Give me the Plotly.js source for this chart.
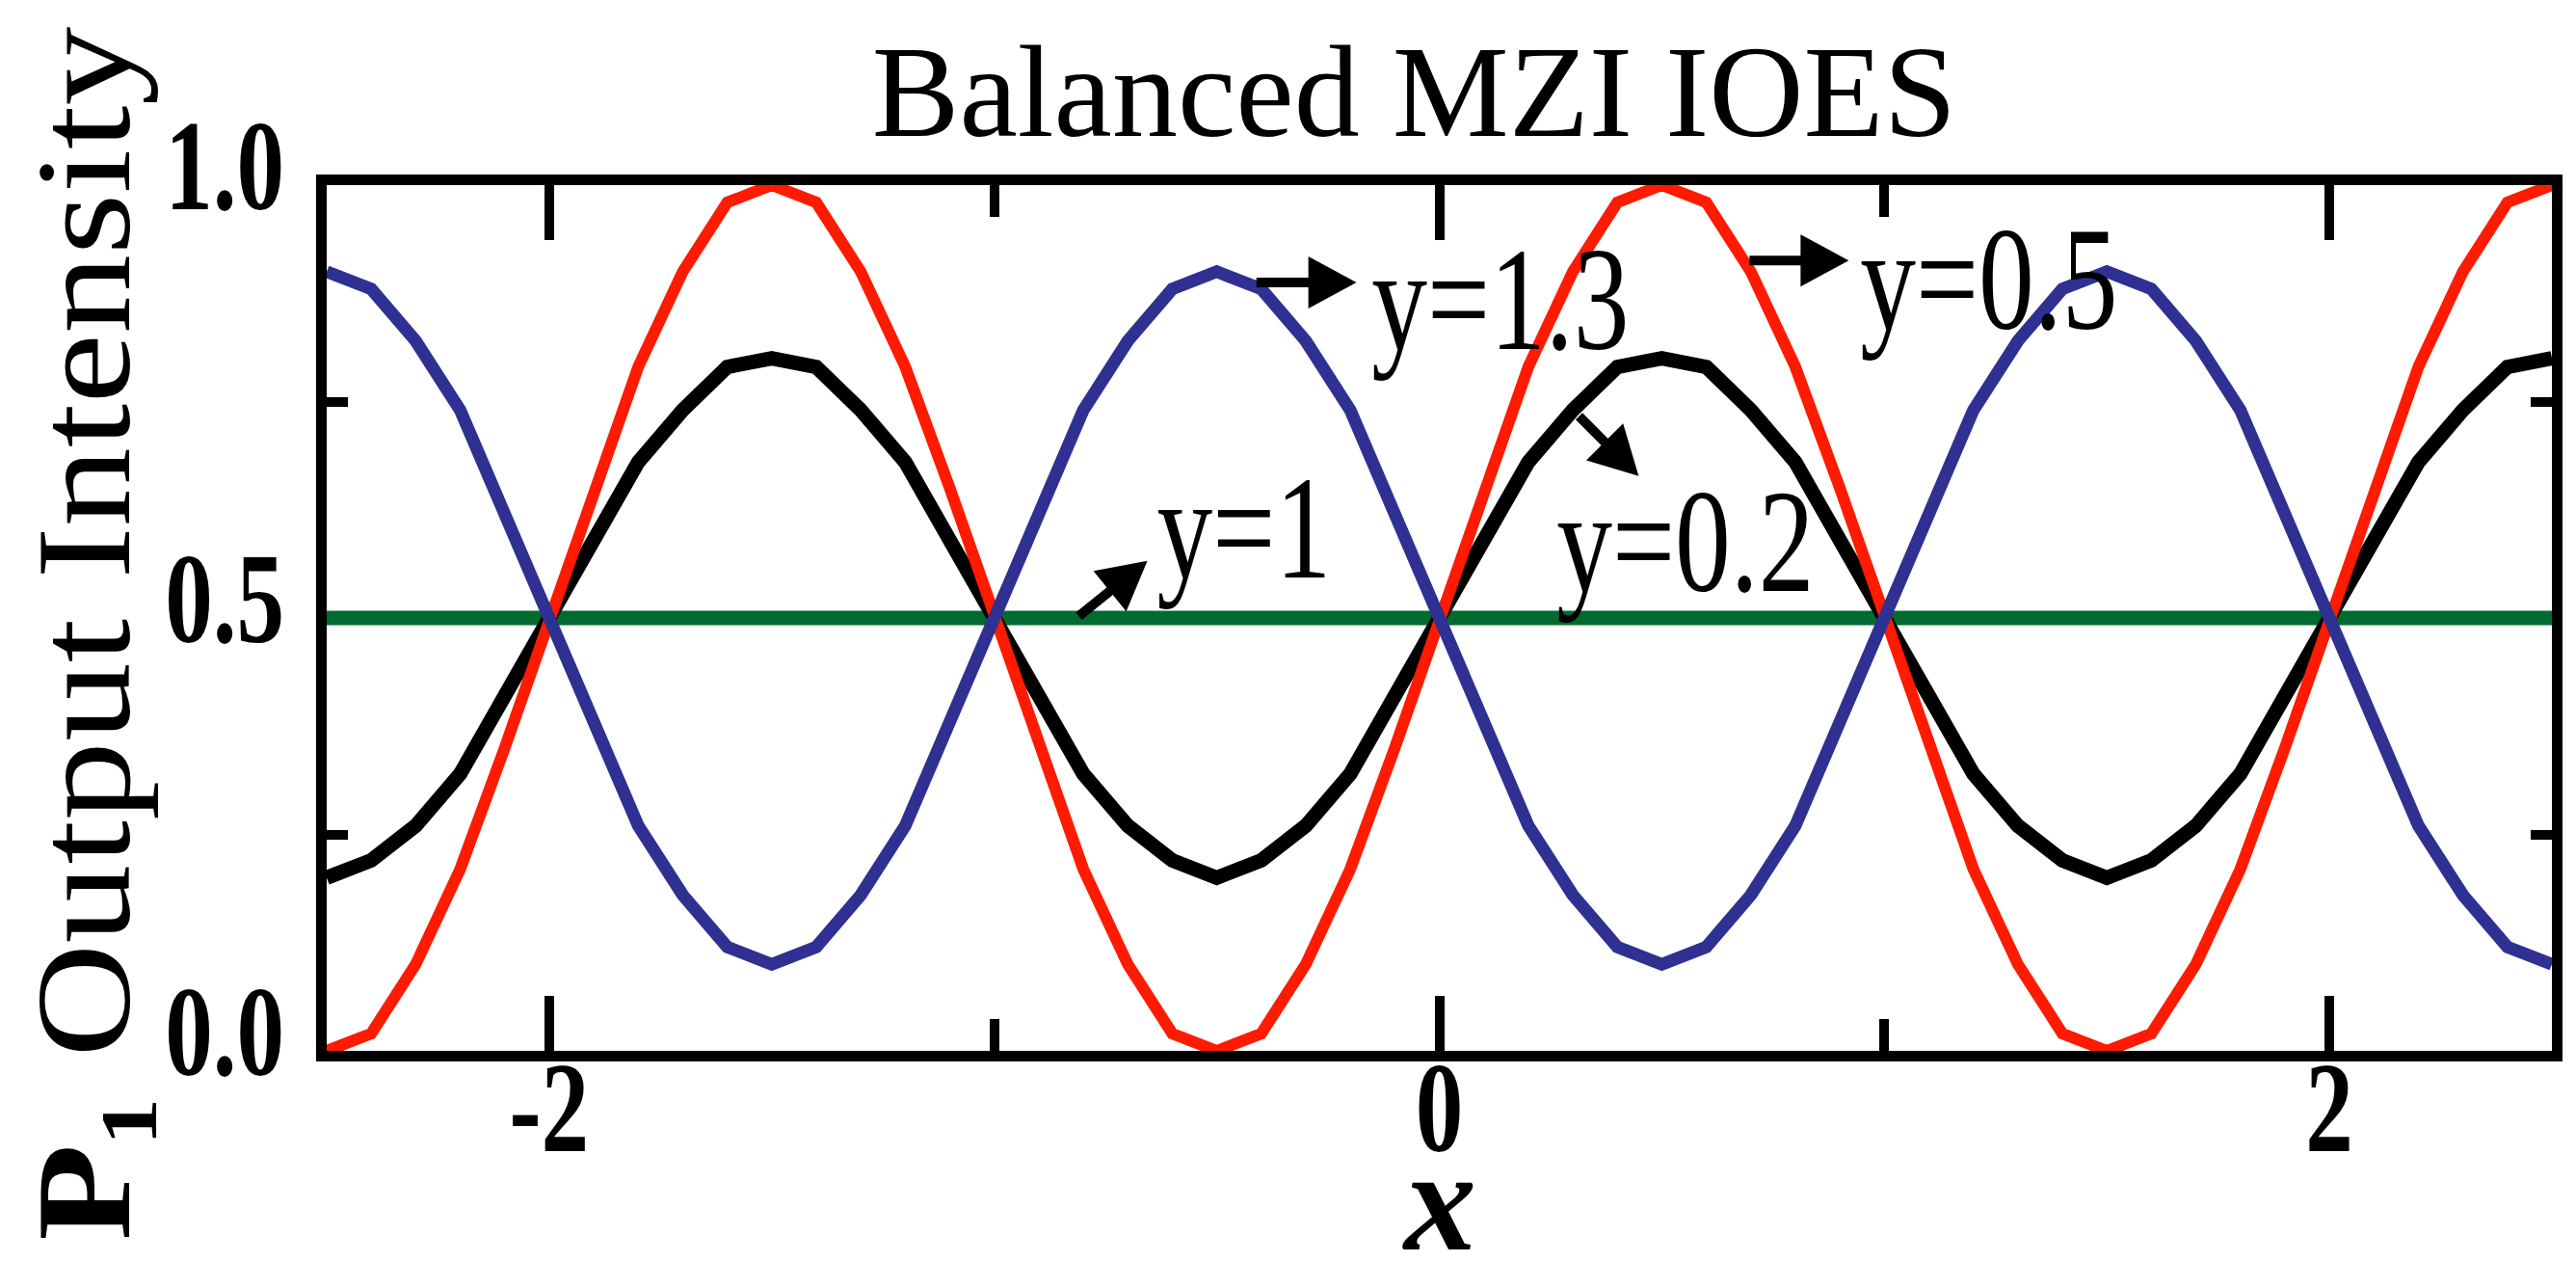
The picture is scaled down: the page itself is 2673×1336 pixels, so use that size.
<!DOCTYPE html>
<html>
<head>
<meta charset="utf-8">
<script src="https://cdn.plot.ly/plotly-3.0.1.min.js"></script>
<style>
  html, body { margin: 0; padding: 0; background: #ffffff; }
  #chart { width: 2673px; height: 1336px; }
</style>
</head>
<body>
<div id="chart"></div>
<script>
// ---- data ----
const xValues = [
  -2.5, -2.4, -2.3, -2.2, -2.1, -2.0, -1.9, -1.8, -1.7, -1.6,
  -1.5, -1.4, -1.3, -1.2, -1.1, -1.0, -0.9, -0.8, -0.7, -0.6,
  -0.5, -0.4, -0.3, -0.2, -0.1, 0.0, 0.1, 0.2, 0.3, 0.4,
  0.5, 0.6, 0.7, 0.8, 0.9, 1.0, 1.1, 1.2, 1.3, 1.4,
  1.5, 1.6, 1.7, 1.8, 1.9, 2.0, 2.1, 2.2, 2.3, 2.4, 2.5
];
const redValues = [
  0.00, 0.02, 0.10, 0.21, 0.35, 0.50, 0.65, 0.79, 0.90, 0.98,
  1.00, 0.98, 0.90, 0.79, 0.65, 0.50, 0.35, 0.21, 0.10, 0.02,
  0.00, 0.02, 0.10, 0.21, 0.35, 0.50, 0.65, 0.79, 0.90, 0.98,
  1.00, 0.98, 0.90, 0.79, 0.65, 0.50, 0.35, 0.21, 0.10, 0.02,
  0.00, 0.02, 0.10, 0.21, 0.35, 0.50, 0.65, 0.79, 0.90, 0.98, 1.00
];
const blackValues = [
  0.20, 0.22, 0.26, 0.32, 0.41, 0.50, 0.59, 0.68, 0.74, 0.79,
  0.80, 0.79, 0.74, 0.68, 0.59, 0.50, 0.41, 0.32, 0.26, 0.22,
  0.20, 0.22, 0.26, 0.32, 0.41, 0.50, 0.59, 0.68, 0.74, 0.79,
  0.80, 0.79, 0.74, 0.68, 0.59, 0.50, 0.41, 0.32, 0.26, 0.22,
  0.20, 0.22, 0.26, 0.32, 0.41, 0.50, 0.59, 0.68, 0.74, 0.79, 0.80
];
const blueValues = [
  0.90, 0.88, 0.82, 0.74, 0.62, 0.50, 0.38, 0.26, 0.18, 0.12,
  0.10, 0.12, 0.18, 0.26, 0.38, 0.50, 0.62, 0.74, 0.82, 0.88,
  0.90, 0.88, 0.82, 0.74, 0.62, 0.50, 0.38, 0.26, 0.18, 0.12,
  0.10, 0.12, 0.18, 0.26, 0.38, 0.50, 0.62, 0.74, 0.82, 0.88,
  0.90, 0.88, 0.82, 0.74, 0.62, 0.50, 0.38, 0.26, 0.18, 0.12, 0.10
];
const greenValues = [
  0.50, 0.50, 0.50, 0.50, 0.50, 0.50, 0.50, 0.50, 0.50, 0.50,
  0.50, 0.50, 0.50, 0.50, 0.50, 0.50, 0.50, 0.50, 0.50, 0.50,
  0.50, 0.50, 0.50, 0.50, 0.50, 0.50, 0.50, 0.50, 0.50, 0.50,
  0.50, 0.50, 0.50, 0.50, 0.50, 0.50, 0.50, 0.50, 0.50, 0.50,
  0.50, 0.50, 0.50, 0.50, 0.50, 0.50, 0.50, 0.50, 0.50, 0.50, 0.50
];
const seriesNames = ['y=1', 'y=0.2', 'y=0.5', 'y=1.3'];
const xTickVals = [-2, 0, 2];
const xTickText = ['-2', '0', '2'];
const xMinorVals = [-1, 1];
const yTickVals = [0, 0.5, 1];
const yTickText = ['0.0', '0.5', '1.0'];
const yMinorVals = [0.25, 0.75];
const labelTexts = ['y=1.3', 'y=0.5', 'y=1', 'y=0.2'];
const chartTitle = 'Balanced MZI IOES';
const yTitle = '<b>P\u2081</b> Output Intensity';
const xTitle = 'x';

// ---- styling ----
const SERIF = '"Liberation Serif", "Times New Roman", Times, serif';
const NARROW = 0.74;   // the reference lettering is horizontally condensed
const W = 2673, H = 1336;
const M = { l: 339, r: 25, t: 192, b: 246 };
const X_RANGE = [-2.5, 2.5], Y_RANGE = [0, 1];
const PX_X = (W - M.l - M.r) / (X_RANGE[1] - X_RANGE[0]);
const PX_Y = (H - M.t - M.b) / (Y_RANGE[1] - Y_RANGE[0]);

const traces = [
  { x: xValues, y: greenValues, name: seriesNames[0], mode: 'lines',
    line: { color: '#006b2e', width: 15 } },
  { x: xValues, y: blackValues, name: seriesNames[1], mode: 'lines',
    line: { color: '#000000', width: 15 } },
  { x: xValues, y: redValues, name: seriesNames[2], mode: 'lines',
    line: { color: '#ff1a00', width: 12 } },
  { x: xValues, y: blueValues, name: seriesNames[3], mode: 'lines',
    line: { color: '#2e3192', width: 13 } }
];

const txtFont = { family: SERIF, size: 152, color: '#000000' };
function label(text, x, y) {
  return { text: text, x: x, y: y, xref: 'x', yref: 'y', showarrow: false,
           xanchor: 'center', yanchor: 'middle', font: txtFont };
}

// pointer arrows (tail -> head), drawn as shapes sized in pixels around the head
function arrowShapes(tx, ty, hx, hy) {
  const dx = (tx - hx) * PX_X, dy = (ty - hy) * PX_Y;   // pixel offset of tail, y up
  const len = Math.hypot(dx, dy), ux = dx / len, uy = dy / len;
  const L = 50, HW = 27;
  const bx = ux * L, by = uy * L, px = -uy, py = ux;
  const f = v => v.toFixed(1);
  const common = { xref: 'x', yref: 'y', xsizemode: 'pixel', ysizemode: 'pixel',
                   xanchor: hx, yanchor: hy, layer: 'above' };
  return [
    Object.assign({ type: 'line', x0: dx, y0: dy, x1: bx * 0.8, y1: by * 0.8,
                    line: { color: '#000', width: 10 } }, common),
    Object.assign({ type: 'path',
                    path: 'M0,0 L' + f(bx + px * HW) + ',' + f(by + py * HW) +
                          ' L' + f(bx - px * HW) + ',' + f(by - py * HW) + ' Z',
                    fillcolor: '#000', line: { width: 0 } }, common)
  ];
}

const layout = {
  width: W, height: H,
  paper_bgcolor: '#ffffff', plot_bgcolor: '#ffffff',
  margin: { l: M.l, r: M.r, t: M.t, b: M.b, pad: 0 },
  showlegend: false,
  title: { text: chartTitle, font: { family: SERIF, size: 136, color: '#000' },
           x: 0.549, xanchor: 'center', xref: 'container', y: 0.93, yanchor: 'middle', yref: 'container' },
  xaxis: {
    range: X_RANGE, showgrid: false, zeroline: false,
    showline: true, linecolor: '#000', linewidth: 11, mirror: 'allticks',
    ticks: 'inside', ticklen: 57, tickwidth: 10, tickcolor: '#000',
    tickvals: xTickVals, ticktext: xTickText, ticklabelstandoff: -68,
    tickfont: { family: SERIF, size: 134, color: '#000', weight: 'bold' },
    minor: { tickvals: xMinorVals, ticks: 'inside', ticklen: 33, tickwidth: 10, tickcolor: '#000', showgrid: false },
    layer: 'below traces'
  },
  yaxis: {
    range: Y_RANGE, showgrid: false, zeroline: false,
    showline: true, linecolor: '#000', linewidth: 11, mirror: 'allticks',
    ticks: 'inside', ticklen: 33, tickwidth: 10, tickcolor: '#000',
    tickvals: yTickVals, ticktext: yTickText, ticklabelstandoff: 6,
    tickfont: { family: SERIF, size: 134, color: '#000', weight: 'bold' },
    minor: { tickvals: yMinorVals, ticks: 'inside', ticklen: 22, tickwidth: 10, tickcolor: '#000', showgrid: false },
    layer: 'below traces'
  },
  shapes: [].concat(
    arrowShapes(-0.411, 0.8875, -0.186, 0.8875),
    arrowShapes(0.697, 0.913, 0.920, 0.913),
    arrowShapes(-0.810, 0.502, -0.656, 0.566),
    arrowShapes(0.314, 0.733, 0.448, 0.664)
  ),
  annotations: [
    label(labelTexts[0], 0.137, 0.8675),
    label(labelTexts[1], 1.236, 0.891),
    label(labelTexts[2], -0.439, 0.6036),
    label(labelTexts[3], 0.553, 0.588),
    // axis titles
    { text: yTitle, xref: 'paper', yref: 'paper', x: -0.1095, y: 0.482,
      xanchor: 'center', yanchor: 'middle', textangle: -90, showarrow: false,
      font: { family: SERIF, size: 140, color: '#000' } },
    { text: xTitle, xref: 'paper', yref: 'paper', x: 0.5, y: -0.1726,
      xanchor: 'center', yanchor: 'middle', showarrow: false,
      font: { family: SERIF, size: 150, color: '#000', weight: 'bold', style: 'italic' } }
  ]
};

function scaleText(el, k) {
  const w = el.getComputedTextLength();
  if (w > 0) {
    el.setAttribute('textLength', (w * k).toFixed(1));
    el.setAttribute('lengthAdjust', 'spacingAndGlyphs');
  }
}

Plotly.newPlot('chart', traces, layout, { staticPlot: true, displayModeBar: false }).then(function (gd) {
  gd.querySelectorAll('.xtick text').forEach(function (el) { scaleText(el, NARROW); });
  gd.querySelectorAll('.ytick text').forEach(function (el) {
    scaleText(el, NARROW);
    el.setAttribute('dy', '-22');
  });
  gd.querySelectorAll('.annotation-text').forEach(function (el) {
    if (labelTexts.indexOf(el.textContent) >= 0) scaleText(el, NARROW + 0.02);
    else if (el.textContent.indexOf('Output') >= 0) scaleText(el, 1.17);
  });
  // drop Plotly's off-screen measuring svg once drawing is done
  const tester = document.getElementById('js-plotly-tester');
  if (tester) tester.remove();
});
</script>
</body>
</html>
